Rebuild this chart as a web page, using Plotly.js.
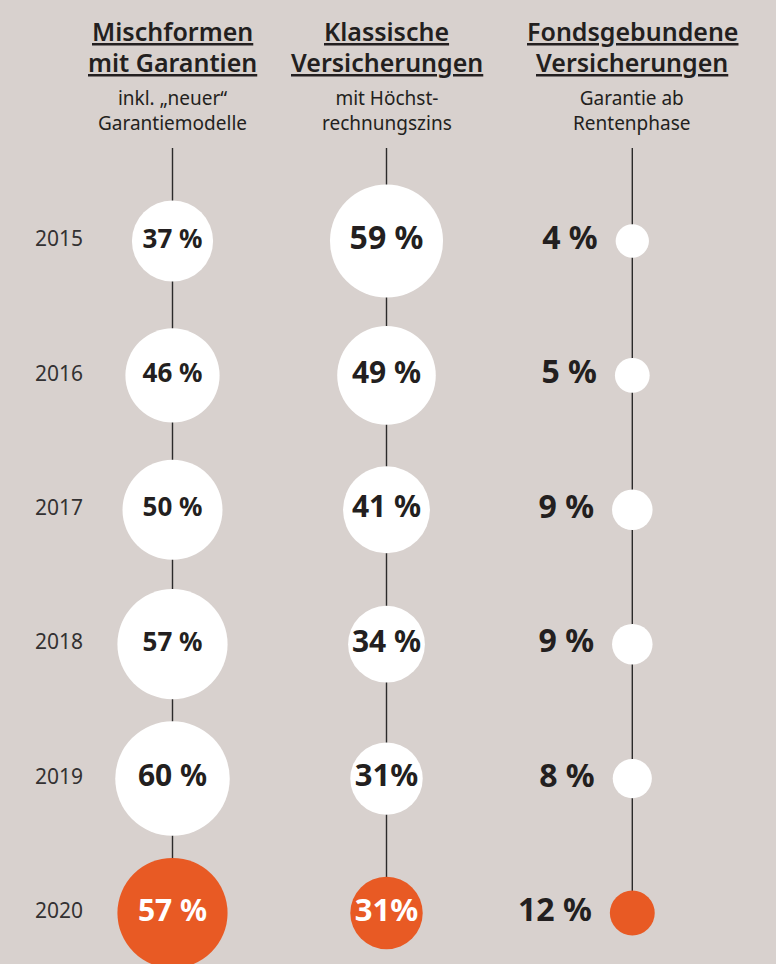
<!DOCTYPE html>
<html>
<head>
<meta charset="utf-8">
<script src="https://cdn.plot.ly/plotly-3.0.1.min.js"></script>
<style>
  html, body { margin: 0; padding: 0; background: #d8d1ce; }
  #chart { width: 776px; height: 964px; }
</style>
</head>
<body>
<div id="chart"></div>
<script>
// ---------------- DATA ----------------
const years = [2015, 2016, 2017, 2018, 2019, 2020];
const mischformen = [37, 46, 50, 57, 60, 57];
const klassische = [59, 49, 41, 34, 31, 31];
const fondsgebundene = [4, 5, 9, 9, 8, 12];
const mischLabels = ['37 %', '46 %', '50 %', '57 %', '60 %', '57 %'];
const klassLabels = ['59 %', '49 %', '41 %', '34 %', '31%', '31%'];
const fondsLabels = ['4 %', '5 %', '9 %', '9 %', '8 %', '12 %'];
const yearLabels = ['2015', '2016', '2017', '2018', '2019', '2020'];
const headerTitles = [
  ['Mischformen', 'mit Garantien'],
  ['Klassische', 'Versicherungen'],
  ['Fondsgebundene', 'Versicherungen']
];
const headerSubtitles = [
  ['inkl. \u201Eneuer\u201C', 'Garantiemodelle'],
  ['mit H\u00F6chst-', 'rechnungszins'],
  ['Garantie ab', 'Rentenphase']
];

// ---------------- STYLE ----------------
const W = 776, H = 964;
const BG = '#d8d1ce', WHITE = '#ffffff', ORANGE = '#e85a24', INK = '#231f20';
const FONT = '"Noto Sans", "Open Sans", sans-serif';
const diam = v => 27.5 + 1.45 * v;          // circle diameter in px from value
const lastIdx = years.length - 1;
const fills = years.map((_, i) => i === lastIdx ? ORANGE : WHITE);
const inkInside = years.map((_, i) => i === lastIdx ? WHITE : INK);
const mischFontSizes = [26, 26, 26, 26, 30, 30];
const klassFontSizes = [32, 30, 30, 30, 31, 31];

// y mapping: row spacing in px
const rowTopPx = 241, rowStepPx = 134.4, lineTopPx = 148;
const yTop = years[0] - rowTopPx / rowStepPx;
const yBottom = years[0] + (H - rowTopPx) / rowStepPx;
const lineTopYear = years[0] - (rowTopPx - lineTopPx) / rowStepPx;

const colCenters = [172.5, 386.5, 632.3];
const yearCenter = 59;
const dom = (c, half) => [c / W - half, c / W + half];
const zeros = years.map(() => 0);

const traces = [
  // column 1
  {
    type: 'scatter', mode: 'markers+text', xaxis: 'x', yaxis: 'y',
    x: zeros, y: years, text: mischLabels, textposition: 'middle center',
    marker: { size: mischformen.map(diam), color: fills, line: { width: 0 }, opacity: 1 },
    textfont: { family: FONT, size: mischFontSizes, weight: 700, color: inkInside },
    cliponaxis: false, hoverinfo: 'skip'
  },
  // column 2
  {
    type: 'scatter', mode: 'markers+text', xaxis: 'x2', yaxis: 'y',
    x: zeros, y: years, text: klassLabels, textposition: 'middle center',
    marker: { size: klassische.map(diam), color: fills, line: { width: 0 }, opacity: 1 },
    textfont: { family: FONT, size: klassFontSizes, weight: 700, color: inkInside },
    cliponaxis: false, hoverinfo: 'skip'
  },
  // column 3 circles
  {
    type: 'scatter', mode: 'markers', xaxis: 'x3', yaxis: 'y',
    x: zeros, y: years,
    marker: { size: fondsgebundene.map(diam), color: fills, line: { width: 0 }, opacity: 1 },
    cliponaxis: false, hoverinfo: 'skip'
  },
  // column 3 labels (left of circles, offset by an invisible marker)
  {
    type: 'scatter', mode: 'markers+text', xaxis: 'x3', yaxis: 'y',
    x: zeros, y: years, text: fondsLabels, textposition: 'middle left',
    marker: { size: fondsgebundene.map(v => 0.8 * (diam(v) + 34)), color: 'rgba(0,0,0,0)', line: { width: 0 } },
    textfont: { family: FONT, size: 32, weight: 700, color: INK },
    cliponaxis: false, hoverinfo: 'skip'
  },
  // year labels
  {
    type: 'scatter', mode: 'text', xaxis: 'x4', yaxis: 'y',
    x: zeros, y: years, text: yearLabels, textposition: 'middle center',
    textfont: { family: FONT, size: 21, weight: 400, color: '#333132' },
    cliponaxis: false, hoverinfo: 'skip'
  }
];

const axisRefs = ['x', 'x2', 'x3'];
const shapes = axisRefs.map(ref => ({
  type: 'line', layer: 'below', xref: ref, yref: 'y',
  x0: 0, x1: 0, y0: lineTopYear, y1: years[lastIdx],
  line: { color: '#2b2a2a', width: 1.4 }
}));

const annotations = [];
const titleCenters = [30.5, 62.5];
const subCenter = 110;
headerTitles.forEach((lines, c) => {
  lines.forEach((t, j) => {
    annotations.push({
      xref: axisRefs[c], x: 0, yref: 'paper', y: 1 - titleCenters[j] / H,
      xanchor: 'center', yanchor: 'middle', showarrow: false,
      text: '<u>' + t + '</u>',
      font: { family: FONT, size: 25, weight: 600, color: INK }
    });
  });
});
headerSubtitles.forEach((lines, c) => {
  annotations.push({
    xref: axisRefs[c], x: 0, yref: 'paper', y: 1 - subCenter / H,
    xanchor: 'center', yanchor: 'middle', showarrow: false,
    text: lines.join('<br>'),
    font: { family: FONT, size: 19, weight: 400, color: INK }
  });
});

const hiddenX = d => ({ domain: d, range: [-1, 1], visible: false, fixedrange: true, anchor: 'y' });

const layout = {
  width: W, height: H,
  margin: { l: 0, r: 0, t: 0, b: 0, pad: 0 },
  paper_bgcolor: BG, plot_bgcolor: 'rgba(0,0,0,0)',
  showlegend: false,
  xaxis: hiddenX(dom(colCenters[0], 0.1)),
  xaxis2: hiddenX(dom(colCenters[1], 0.1)),
  xaxis3: hiddenX(dom(colCenters[2], 0.1)),
  xaxis4: hiddenX(dom(yearCenter, 0.06)),
  yaxis: { domain: [0, 1], range: [yBottom, yTop], visible: false, fixedrange: true, anchor: 'x' },
  shapes: shapes,
  annotations: annotations,
  hovermode: false
};

Plotly.newPlot('chart', traces, layout, { displayModeBar: false, staticPlot: true });
</script>
</body>
</html>
